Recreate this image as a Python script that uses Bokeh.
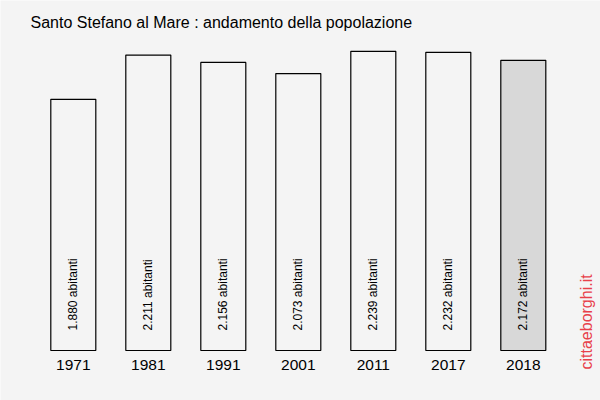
from bokeh.plotting import figure
from bokeh.models import ColumnDataSource, Range1d
from bokeh.core.properties import value
from bokeh.embed import file_html
from bokeh.resources import INLINE
import math

title_text = "Santo Stefano al Mare : andamento della popolazione"
years = ["1971", "1981", "1991", "2001", "2011", "2017", "2018"]
population = [1880, 2211, 2156, 2073, 2239, 2232, 2172]
labels = ["1.880 abitanti", "2.211 abitanti", "2.156 abitanti", "2.073 abitanti",
          "2.239 abitanti", "2.232 abitanti", "2.172 abitanti"]
watermark = "cittaeborghi.it"

BG = "#f4f4f4"
fills = [BG] * (len(years) - 1) + ["#d8d8d8"]

# pixel mapping helpers (frame = whole canvas)
K = 0.1336            # px per inhabitant
BASE = 350.0          # baseline pixel from top
SLOT = 75.0           # px per category
X0 = -72.8 / SLOT     # data x at left canvas edge


def ydata(px_from_top):
    return (BASE - px_from_top) / K


def xdata(px_from_left):
    return X0 + px_from_left / SLOT


p = figure(width=600, height=400, output_backend="svg", toolbar_location=None,
           x_range=Range1d(X0, X0 + 600 / SLOT), y_range=Range1d(ydata(400), ydata(0)),
           x_axis_location=None, y_axis_location=None, min_border=0)
p.background_fill_color = BG
p.border_fill_color = BG
p.outline_line_color = None
p.grid.visible = False

xs = list(range(len(years)))
src = ColumnDataSource(dict(x=xs, top=population, fill=fills, label=labels, year=years,
                            ly=[ydata(330)] * len(years), yy=[ydata(364)] * len(years)))

p.vbar(x="x", top="top", bottom=0, width=45 / SLOT, source=src, fill_color="fill",
       line_color="black", line_width=1.2)

p.text(x="x", y="ly", text="label", source=src, angle=math.pi / 2,
       text_align="left", text_baseline="middle", text_font=value("Liberation Sans"),
       text_font_size="12px", text_color="black")

p.text(x="x", y="yy", text="year", source=src, text_align="center",
       text_baseline="middle", text_font=value("Liberation Sans"),
       text_font_size="15.5px", text_color="black")

p.text(x=[xdata(30)], y=[ydata(22)], text=[title_text], text_align="left",
       text_baseline="middle", text_font=value("Liberation Sans"),
       text_font_size="16px", text_color="black")

p.text(x=[xdata(586)], y=[ydata(369)], text=[watermark], angle=math.pi / 2,
       text_align="left", text_baseline="middle", text_font=value("Liberation Sans"),
       text_font_size="16px", text_color="#e8404a")

open("out.html", "w").write(file_html(p, INLINE))
